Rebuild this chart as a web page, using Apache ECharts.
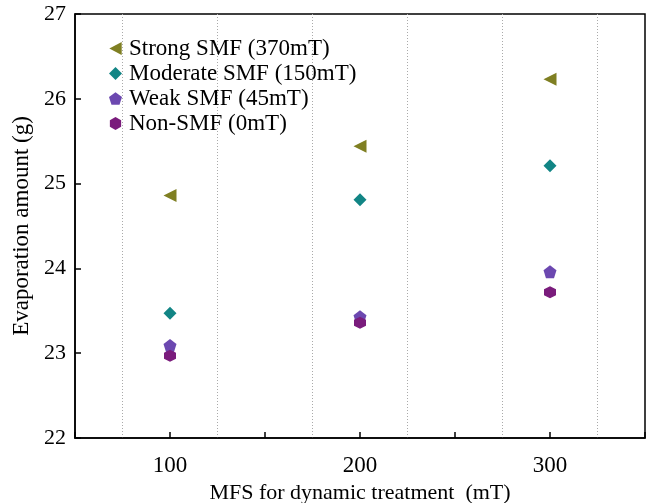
<!DOCTYPE html>
<html>
<head>
<meta charset="utf-8">
<script src="https://cdn.jsdelivr.net/npm/echarts@6/dist/echarts.min.js"></script>
<style>html,body{margin:0;padding:0;background:#fff}#c{width:648px;height:503px}</style>
</head>
<body>
<div id="c"></div>
<script>
const categories = [100, 200, 300];
const seriesNames = ['Strong SMF (370mT)', 'Moderate SMF (150mT)', 'Weak SMF (45mT)', 'Non-SMF (0mT)'];
const strongVals = [24.86, 25.44, 26.23];
const moderateVals = [23.47, 24.81, 25.21];
const weakVals = [23.09, 23.43, 23.96];
const nonVals = [22.97, 23.36, 23.72];
const xTickLabels = ['100', '200', '300'];
const yTickLabels = ['22', '23', '24', '25', '26', '27'];

const FONT = '"Liberation Serif", "DejaVu Serif", serif';
const triLeft = 'path://M-10,0 L8,-9.5 L8,9.5 Z';
const diamond = 'path://M0,-10 L10,0 L0,10 L-10,0 Z';
const pentagon = 'path://M0,-10 L9.51,-3.09 L5.88,8.09 L-5.88,8.09 L-9.51,-3.09 Z';
const hexagon = 'path://M0,-10 L8.66,-5 L8.66,5 L0,10 L-8.66,5 L-8.66,-5 Z';

function pairs(vals) { return categories.map((c, i) => [c, vals[i]]); }

const chart = echarts.init(document.getElementById('c'), null, {renderer: 'canvas'});
chart.setOption({
  animation: false,
  backgroundColor: '#fff',
  grid: {left: 75, right: 3, top: 14, bottom: 65, outerBoundsMode: 'none', containLabel: false,
    show: true, borderColor: '#000', borderWidth: 1.5, backgroundColor: 'transparent'},
  legend: {
    orient: 'vertical', left: 104, top: 32, itemGap: 2, itemWidth: 13, itemHeight: 13,
    textStyle: {fontFamily: FONT, fontSize: 23, color: '#000', padding: [0, 0, 0, 2]},
    data: seriesNames
  },
  xAxis: {
    type: 'value', min: 50, max: 350, interval: 50,
    name: 'MFS for dynamic treatment  (mT)', nameLocation: 'middle', nameGap: 37,
    nameTextStyle: {fontFamily: FONT, fontSize: 22, color: '#000'},
    axisLine: {lineStyle: {color: '#000', width: 1.5}},
    axisTick: {inside: true, length: 6, lineStyle: {color: '#000', width: 1.5}},
    axisLabel: {fontFamily: FONT, fontSize: 23, color: '#000', margin: 16,
      formatter: v => xTickLabels.includes(String(v)) ? String(v) : ''},
    splitLine: {show: false},
    minorTick: {show: false, splitNumber: 2},
    minorSplitLine: {show: true, lineStyle: {color: '#aaa', type: [1, 2], width: 1}}
  },
  yAxis: {
    type: 'value', min: 22, max: 27, interval: 1,
    name: 'Evaporation amount (g)', nameLocation: 'middle', nameGap: 42,
    nameTextStyle: {fontFamily: FONT, fontSize: 23, color: '#000'},
    axisLine: {lineStyle: {color: '#000', width: 1.5}},
    axisTick: {inside: true, length: 6, lineStyle: {color: '#000', width: 1.5}},
    axisLabel: {fontFamily: FONT, fontSize: 22, color: '#000', margin: 9,
      formatter: v => yTickLabels.includes(String(v)) ? String(v) : ''},
    splitLine: {show: false}
  },
  series: [
    {name: seriesNames[0], type: 'scatter', data: pairs(strongVals), symbol: triLeft, symbolSize: 13, itemStyle: {color: '#7f7f22', opacity: 1}},
    {name: seriesNames[1], type: 'scatter', data: pairs(moderateVals), symbol: diamond, symbolSize: 13, itemStyle: {color: '#128585', opacity: 1}},
    {name: seriesNames[2], type: 'scatter', data: pairs(weakVals), symbol: pentagon, symbolSize: 13, itemStyle: {color: '#6c48b0', opacity: 1}},
    {name: seriesNames[3], type: 'scatter', data: pairs(nonVals), symbol: hexagon, symbolSize: 12, itemStyle: {color: '#7a1c7c', opacity: 1}}
  ]
});
</script>
</body>
</html>
